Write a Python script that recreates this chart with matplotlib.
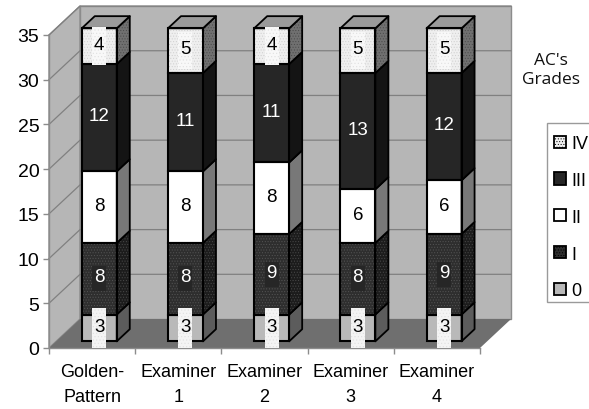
import matplotlib
matplotlib.use("Agg")
import matplotlib.pyplot as plt
from matplotlib.patches import Patch, Polygon, Rectangle

plt.rcParams["font.family"] = ["Liberation Sans", "DejaVu Sans"]
plt.rcParams["hatch.linewidth"] = 0.4

examiners = ["Golden-\nPattern", "Examiner\n1", "Examiner\n2", "Examiner\n3", "Examiner\n4"]
grades = ["0", "I", "II", "III", "IV"]
grade_0 = [3, 3, 3, 3, 3]
grade_1 = [8, 8, 9, 8, 9]
grade_2 = [8, 8, 8, 6, 6]
grade_3 = [12, 11, 11, 13, 12]
grade_4 = [4, 5, 4, 5, 5]
y_ticks = [0, 5, 10, 15, 20, 25, 30, 35]

series = [grade_0, grade_1, grade_2, grade_3, grade_4]

# front colour, hatch colour, hatch, side colour, text colour, label box height
styles = [
    dict(face="#b9b9b9", hc="#b9b9b9", hatch=None, side="#5c5c5c", text="black", box="#f4f4f4", box_h=4.4),
    dict(face="#2e2e2e", hc="#555555", hatch="......", side="#1c1c1c", text="white", box="#262626", box_h=2.8),
    dict(face="white", hc="white", hatch=None, side="#787878", text="black", box=None, box_h=0),
    dict(face="#262626", hc="#262626", hatch=None, side="#141414", text="white", box=None, box_h=0),
    dict(face="#efefef", hc="#cfcfcf", hatch="......", side="#707070", text="black", box="#f8f8f8", box_h=4.2),
]

# oblique offset of the back wall, in data units
DX, DY = 0.36, 3.24
FRONT, BACK = 0.23, 0.65
BAR_W = 0.406

fig = plt.figure(figsize=(5.89, 4.10), dpi=100, facecolor="white")
ax = fig.add_axes([49 / 589, 61 / 410, 431 / 589, 313 / 410])
ax.set_xlim(0, 5)
ax.set_ylim(0, 35)
ax.patch.set_visible(False)
for name in ["top", "right"]:
    ax.spines[name].set_visible(False)
for name in ["left", "bottom"]:
    ax.spines[name].set_color("#8c8c8c")
    ax.spines[name].set_linewidth(1.0)


def poly(points, face, z, edge="none", lw=0, hatch=None, hatch_color=None):
    if hatch:
        ax.add_patch(Polygon(points, closed=True, facecolor=face, edgecolor=hatch_color,
                             hatch=hatch, lw=0, zorder=z, clip_on=False))
        face = "none"
    ax.add_patch(Polygon(points, closed=True, facecolor=face, edgecolor=edge, lw=lw,
                         zorder=z, clip_on=False, joinstyle="round"))


# walls and floor
poly([(0, 0), (DX, DY), (DX, 35 + DY), (0, 35)], "#b6b6b6", 1, edge="#8c8c8c", lw=1.0)
poly([(DX, DY), (5 + DX, DY), (5 + DX, 35 + DY), (DX, 35 + DY)], "#b6b6b6", 1, edge="#8c8c8c", lw=1.0)
poly([(0, 0), (5, 0), (5 + DX, DY), (DX, DY)], "#6f6f6f", 1.5)

for t in y_ticks[1:]:
    ax.plot([0, DX, 5 + DX], [t, t + DY, t + DY], color="#808080", lw=0.9, zorder=2, clip_on=False)

# stacked columns, each drawn as front, side and top faces
for i in range(len(examiners)):
    x0 = i + 0.5 - BAR_W / 2 + FRONT * DX
    x1 = x0 + BAR_W
    ddx = (BACK - FRONT) * DX
    ddy = (BACK - FRONT) * DY
    level = FRONT * DY
    z = 5 + i
    for values, st in zip(series, styles):
        v = values[i]
        top = level + v
        ax.bar(x0, v, BAR_W, bottom=level, align="edge", color=st["face"], edgecolor=st["hc"],
               hatch=st["hatch"], lw=0, zorder=z, clip_on=False)
        ax.bar(x0, v, BAR_W, bottom=level, align="edge", facecolor="none", edgecolor="black",
               lw=1.5, zorder=z + 0.1, clip_on=False)
        side = [(x1, level), (x1 + ddx, level + ddy), (x1 + ddx, top + ddy), (x1, top)]
        poly(side, st["side"], z, edge="black", lw=1.3, hatch=st["hatch"], hatch_color="#4a4a4a")
        mid = level + v / 2
        if st["box"]:
            ax.add_patch(Rectangle((x0 + BAR_W / 2 - 0.081, mid - st["box_h"] / 2), 0.162, st["box_h"],
                                   facecolor=st["box"], edgecolor="#e0e0e0" if st["text"] == "black" else "none",
                                   hatch="....." if st["text"] == "black" else None,
                                   lw=0, zorder=z + 0.2, clip_on=False))
        ax.text(x0 + BAR_W / 2, mid + 0.2, str(v), ha="center", va="center", color=st["text"],
                fontsize=13.5, zorder=z + 0.3)
        level = top
    roof = [(x0, level), (x1, level), (x1 + ddx, level + ddy), (x0 + ddx, level + ddy)]
    poly(roof, "#9a9a9a", z, edge="black", lw=1.3)

# axis ticks and labels
ax.set_yticks(y_ticks)
ax.tick_params(axis="y", length=4, width=1, color="#8c8c8c", labelsize=14, pad=3)
ax.set_xticks(range(6))
ax.set_xticklabels([])
ax.tick_params(axis="x", which="major", length=4, width=1, color="#8c8c8c")
ax.set_xticks([i + 0.5 for i in range(5)], minor=True)
ax.set_xticklabels(examiners, minor=True, fontsize=13, linespacing=1.6)
ax.tick_params(axis="x", which="minor", length=0, pad=11)

fig.text(551 / 589, 1 - 71 / 410, "AC's\nGrades", ha="center", va="center", fontsize=12.5,
         family=["Open Sans", "DejaVu Sans"], color="#111111", linespacing=1.25)

# legend, top grade first, with its frame running off the right edge
fig.add_artist(Rectangle((547 / 589, 1 - 303 / 410), 50 / 589, 179 / 410, transform=fig.transFigure,
                         facecolor="white", edgecolor="#9a9a9a", lw=1.0))
handles = [Patch(facecolor=s["face"], edgecolor="black", lw=1.3, hatch=s["hatch"]) for s in styles]
leg = fig.legend(handles[::-1], grades[::-1], loc="upper left", bbox_to_anchor=(554 / 589, 1 - 136 / 410),
                 borderaxespad=0, borderpad=0, fontsize=13, handlelength=0.66, handleheight=0.66,
                 handletextpad=0.3, labelspacing=1.1, frameon=False)

fig.savefig("out.png", dpi=100)
